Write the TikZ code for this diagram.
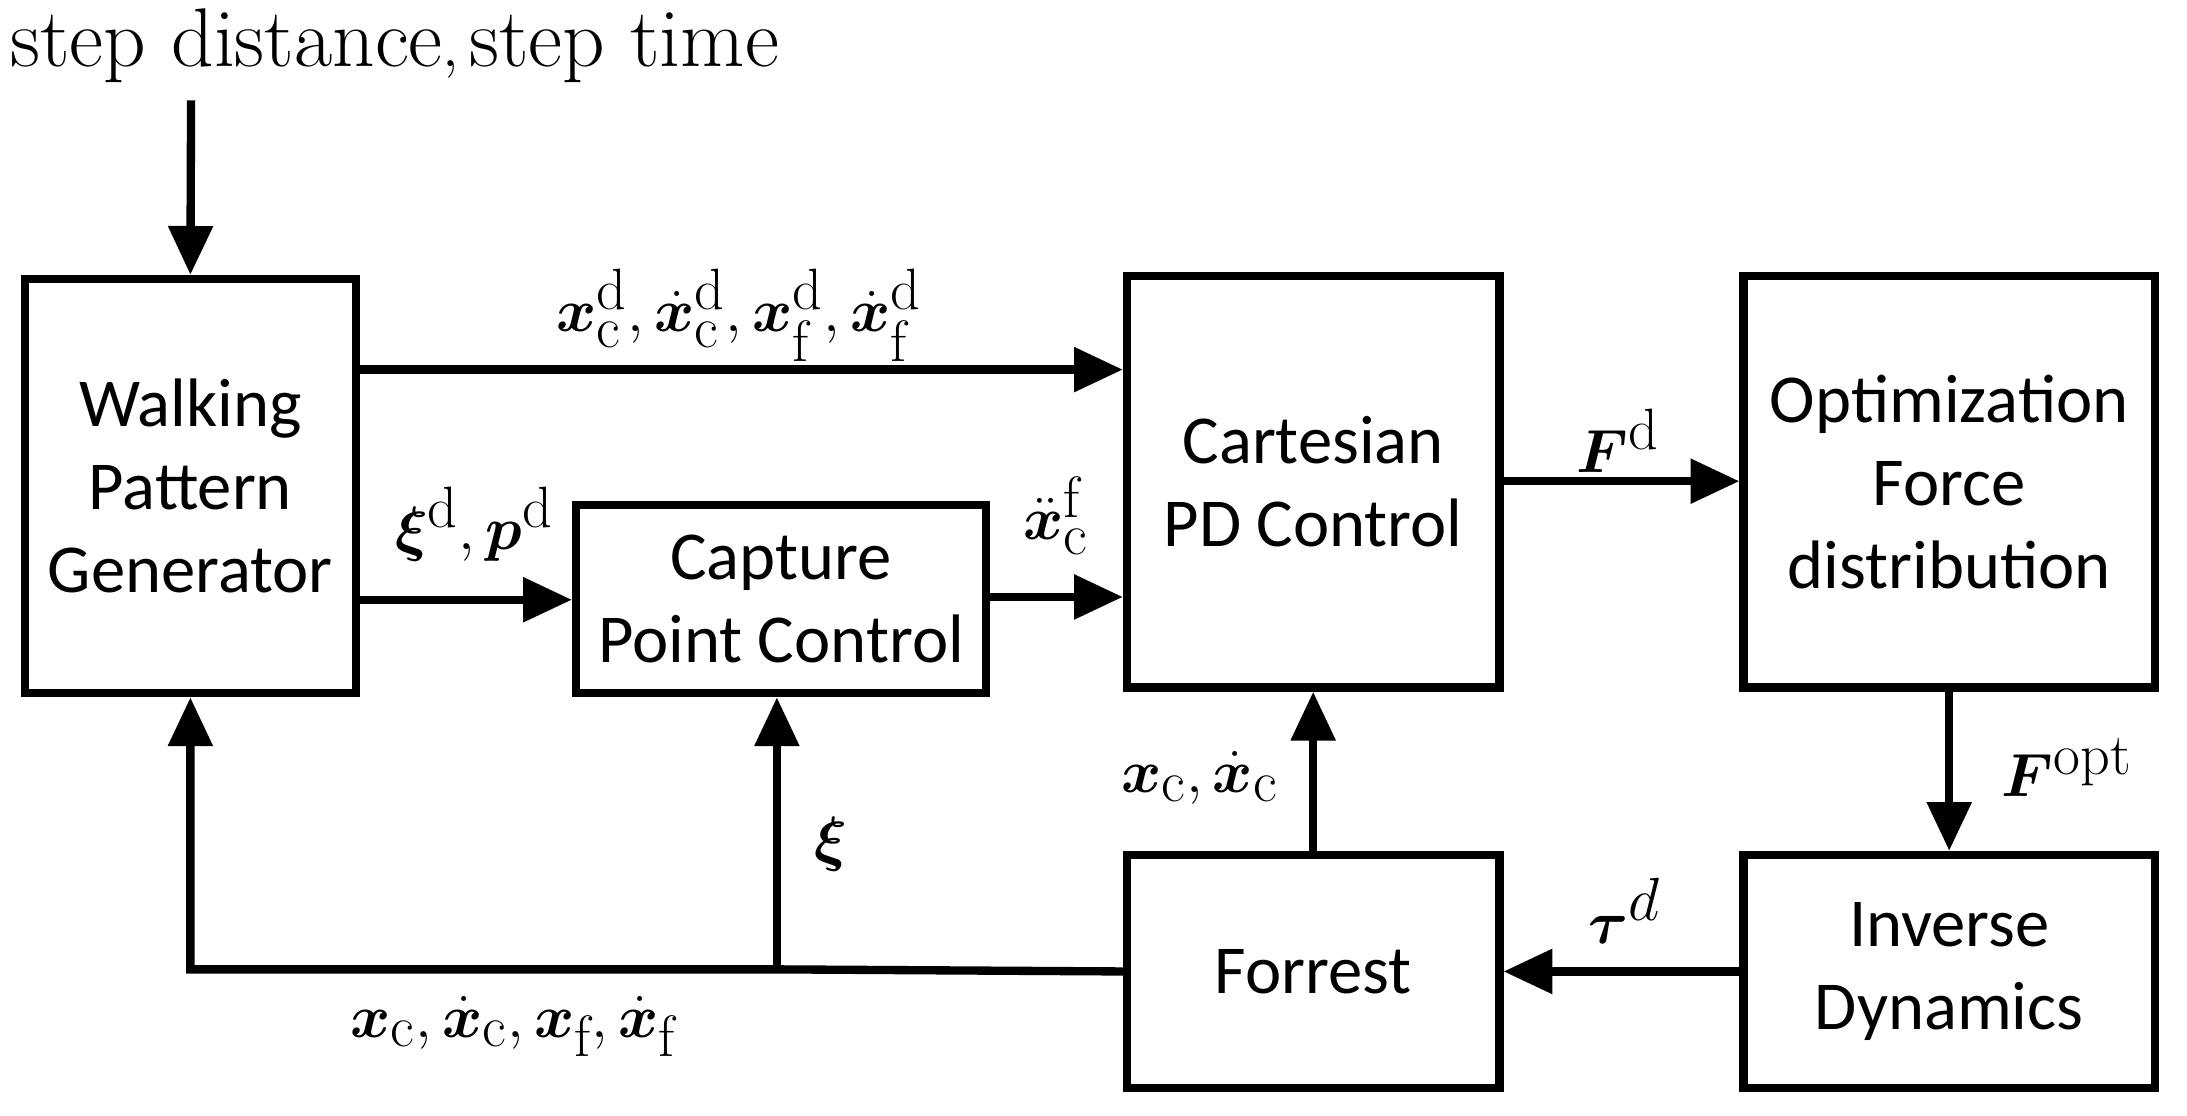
\documentclass[tikz,border=0pt]{standalone}
\usepackage{amsmath,bm}
\usepackage{fontspec}
\newfontfamily\carl{Carlito}
\usetikzlibrary{arrows.meta}
\begin{document}
\begin{tikzpicture}[x=0.02cm,y=-0.02cm,
  box/.style={draw,line width=3.4pt,font=\carl\fontsize{28}{34}\selectfont,align=center,inner sep=0pt},
  ar/.style={line width=3.4pt,-{Triangle[length=0.7cm,width=0.62cm]}},
  lb/.style={font=\fontsize{34}{40}\selectfont,inner sep=1pt}]
\useasboundingbox (0,0) rectangle (1568,800);
\node[box,minimum width=237*0.02cm,minimum height=297*0.02cm] (wpg) at (136.5,348.5) {Walking\\Pattern\\Generator};
\node[box,minimum width=294*0.02cm,minimum height=135*0.02cm] (cap) at (560,429.5) {Capture\\Point Control};
\node[box,minimum width=267*0.02cm,minimum height=295*0.02cm] (cart) at (941.5,345.5) {Cartesian\\PD Control};
\node[box,minimum width=295*0.02cm,minimum height=295*0.02cm] (opt) at (1397.5,345.5) {Optimization\\Force\\distribution};
\node[box,minimum width=267*0.02cm,minimum height=167*0.02cm] (for) at (941.5,696.5) {Forrest};
\node[box,minimum width=295*0.02cm,minimum height=167*0.02cm] (inv) at (1397.5,696.5) {Inverse\\Dynamics};
\node[lb] (top) at (283,33) {$\mathrm{step\ distance},\mathrm{step\ time}$};
\coordinate (tin) at (137,72);
\draw[ar] (tin) -- (wpg.north);
\draw[ar] (wpg.east |- 0,265) -- (cart.west |- 0,265);
\draw[ar] (wpg.east |- 0,430) -- (cap.west |- 0,430);
\draw[ar] (cap.east |- 0,428) -- (cart.west |- 0,428);
\draw[ar] (cart.east |- 0,345) -- (opt.west |- 0,345);
\draw[ar] (opt.south) -- (inv.north);
\draw[ar] (inv.west) -- (for.east);
\draw[ar] (for.north) -- (cart.south);
\coordinate (br) at (557,695);
\draw[ar] (for.west) -- (br) -| (wpg.south);
\draw[ar] (br) -- (br |- cap.south);
\node[lb] (l1) at (530,226) {$\bm{x}^{\mathrm d}_{\mathrm c},\dot{\bm x}^{\mathrm d}_{\mathrm c},\bm{x}^{\mathrm d}_{\mathrm f},\dot{\bm x}^{\mathrm d}_{\mathrm f}$};
\node[lb] (l2) at (340,376) {$\bm{\xi}^{\mathrm d},\bm{p}^{\mathrm d}$};
\node[lb] (l3) at (757,370) {$\ddot{\bm x}^{\mathrm f}_{\mathrm c}$};
\node[lb] (l4) at (1160,316) {$\bm{F}^{\mathrm d}$};
\node[lb] (l5) at (1482,550) {$\bm{F}^{\mathrm{opt}}$};
\node[lb] (l6) at (1165,653) {$\bm{\tau}^{d}$};
\node[lb] (l7) at (860,558) {$\bm{x}_{\mathrm c},\dot{\bm x}_{\mathrm c}$};
\node[lb] (l8) at (596,605) {$\bm{\xi}$};
\node[lb] (l9) at (368,736) {$\bm{x}_{\mathrm c},\dot{\bm x}_{\mathrm c},\bm{x}_{\mathrm f},\dot{\bm x}_{\mathrm f}$};
\end{tikzpicture}
\end{document}
